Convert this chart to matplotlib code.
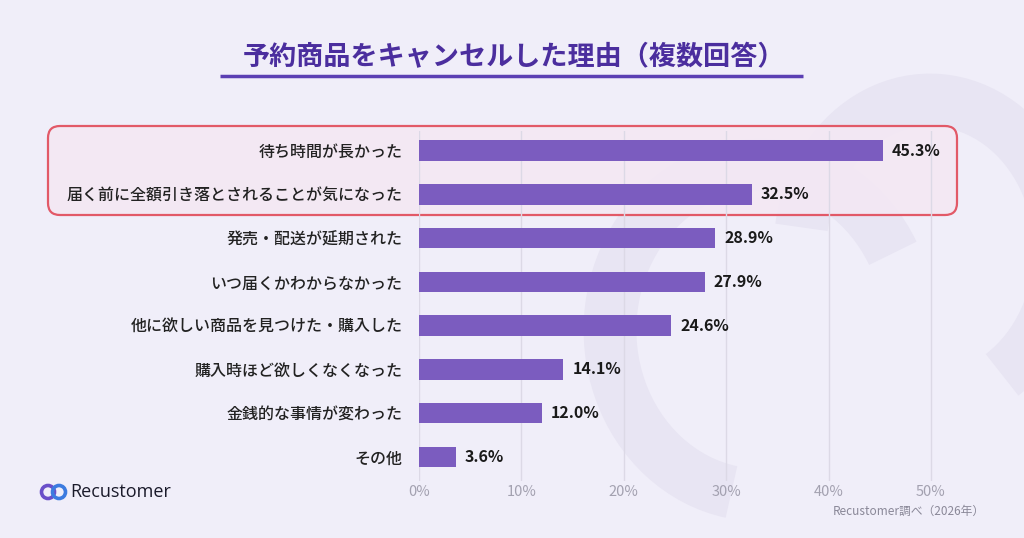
import matplotlib.pyplot as plt
from matplotlib.patches import FancyBboxPatch, Arc, Circle
import numpy as np

plt.rcParams['font.family'] = ['Noto Sans CJK JP', 'DejaVu Sans']

categories = [
    '待ち時間が長かった',
    '届く前に全額引き落とされることが気になった',
    '発売・配送が延期された',
    'いつ届くかわからなかった',
    '他に欲しい商品を見つけた・購入した',
    '購入時ほど欲しくなくなった',
    '金銭的な事情が変わった',
    'その他',
]
values = [45.3, 32.5, 28.9, 27.9, 24.6, 14.1, 12.0, 3.6]
ticks = [0, 10, 20, 30, 40, 50]
tick_labels = ['0%', '10%', '20%', '30%', '40%', '50%']

bg = '#f0eef9'
bar_color = '#7b5cbf'
title_color = '#4b2e9e'

W, H = 1024, 538
fig = plt.figure(figsize=(W / 100, H / 100), dpi=100, facecolor=bg)

# faint background watermark
wm = fig.add_axes([0, 0, 1, 1], zorder=0)
wm.set_xlim(0, W)
wm.set_ylim(H, 0)
wm.axis('off')
wm.set_facecolor('none')
wm_col = '#e8e5f3'
wm.add_patch(Arc((760, 330), 300, 330, theta1=100, theta2=330, lw=38, color=wm_col))
wm.add_patch(Arc((930, 250), 260, 300, theta1=190, theta2=420, lw=38, color=wm_col))

# red highlight box for the top two items
box = FancyBboxPatch((48, 126), 909, 89, boxstyle='round,pad=0,rounding_size=12',
                     lw=1.6, edgecolor='#e0404f', facecolor='#f4e8f3', alpha=0.85,
                     zorder=1)
wm.add_patch(box)

# main bar axes: 0% at x=419, 50% at x=931
x0, x50 = 419, 931
right = 965
xmax = 50 * (right - x0) / (x50 - x0)
top, bottom = 131, 481
ax = fig.add_axes([x0 / W, 1 - bottom / H, (right - x0) / W, (bottom - top) / H], zorder=2)
ax.set_facecolor('none')
y = np.arange(len(categories))
ax.barh(y, values, height=0.47, color=bar_color, zorder=3)
ax.set_xlim(0, xmax)
ax.set_ylim(len(categories) - 0.5 + 0.05, -0.5 + 0.05)
ax.set_xticks(ticks)
ax.set_xticklabels(tick_labels, color='#a3a1b0', fontsize=10.5)
ax.set_yticks(y)
ax.set_yticklabels(categories, fontsize=11.5, color='#222222', fontweight='medium')
ax.tick_params(axis='y', length=0, pad=12)
ax.tick_params(axis='x', length=0, pad=3)
ax.grid(axis='x', color='#dcd9e6', lw=1, zorder=0)
for s in ax.spines.values():
    s.set_visible(False)
for yi, v in zip(y, values):
    ax.text(v + 0.9, yi, f'{v:.1f}%', va='center', ha='left', fontsize=11.5,
            fontweight='bold', color='#1a1a1a', zorder=4)

# title with underline
fig.text(514 / W, 1 - 57 / H, '予約商品をキャンセルした理由（複数回答）', ha='center', va='center',
         fontsize=19.5, fontweight='bold', color=title_color)
wm.plot([220, 803], [76, 76], color='#5b3fb3', lw=2.5, solid_capstyle='butt')

# logo
wm.add_patch(Circle((48, 492), 6.5, fill=False, lw=2.6, color='#6a4fc9', zorder=5))
wm.add_patch(Circle((59, 492), 6.5, fill=False, lw=2.6, color='#3c7be0', zorder=5))
fig.text(70 / W, 1 - 492 / H, 'Recustomer', ha='left', va='center', fontsize=13,
         color='#1a1a2a', family=['Open Sans', 'DejaVu Sans'])

fig.text(985 / W, 1 - 511 / H, 'Recustomer調べ（2026年）', ha='right', va='center',
         fontsize=8.5, color='#8a8898')

fig.savefig('out.png', dpi=100, facecolor=bg)
